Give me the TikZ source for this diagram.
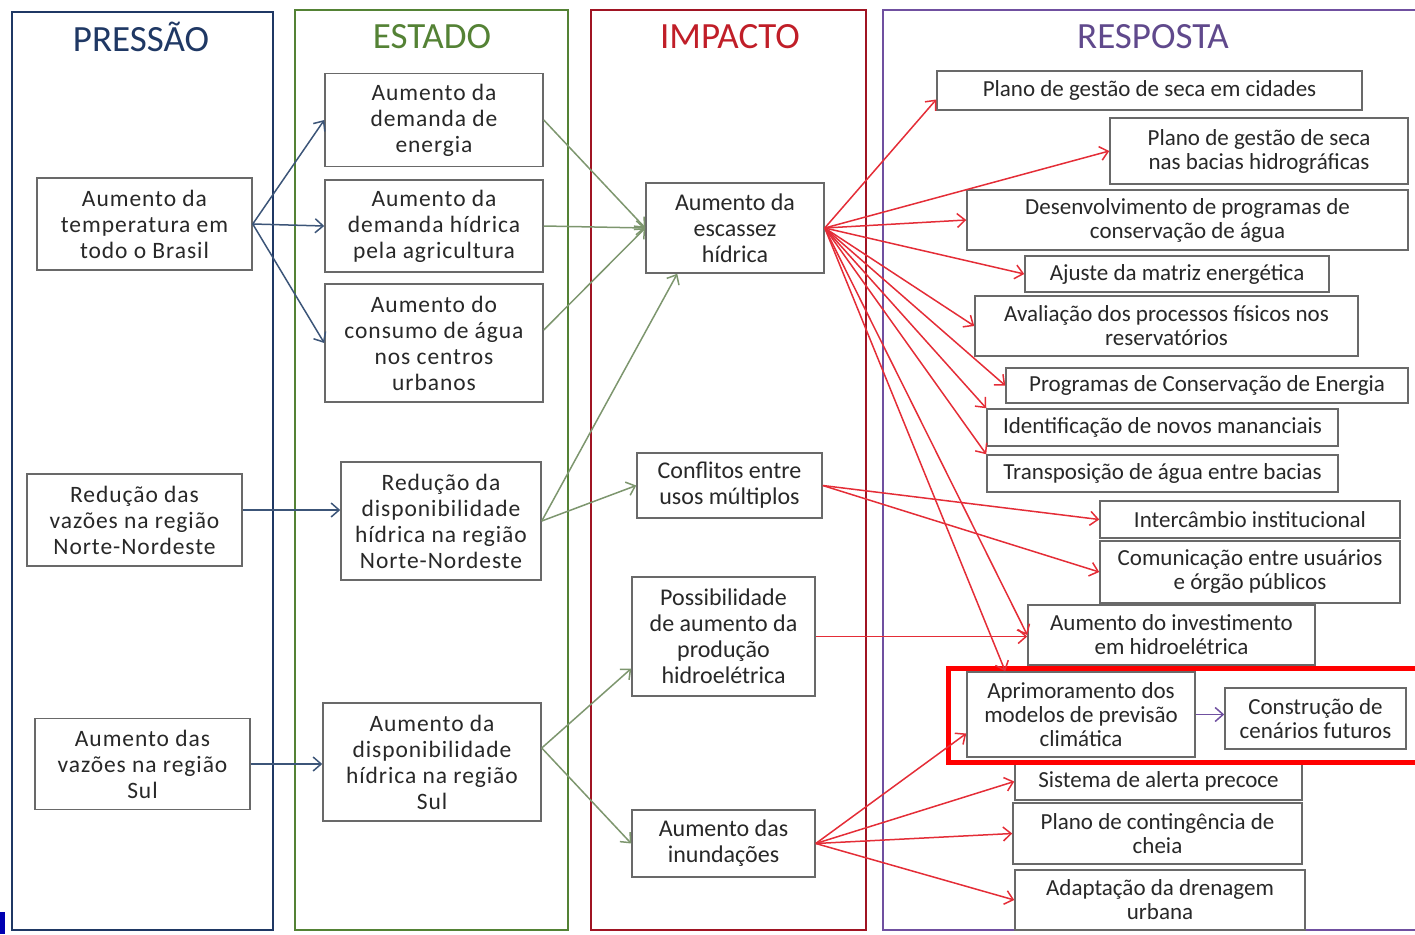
\documentclass[tikz,border=0pt]{standalone}
\usepackage{fontspec}
\setmainfont{Carlito}
\newfontfamily\boxfont{Carlito}[LetterSpace=4]
\usetikzlibrary{arrows.meta}

\definecolor{pnavy}{RGB}{31,56,100}
\definecolor{sgreen}{RGB}{84,130,53}
\definecolor{ired}{RGB}{160,20,35}
\definecolor{ititle}{RGB}{192,30,40}
\definecolor{rpurple}{RGB}{112,80,160}
\definecolor{rtitle}{RGB}{96,73,140}
\definecolor{boxgray}{RGB}{105,105,105}
\definecolor{boxtext}{RGB}{40,40,40}
\definecolor{pblue}{RGB}{60,85,120}
\definecolor{sarrow}{RGB}{125,150,110}
\definecolor{rred}{RGB}{228,45,55}

\tikzset{
  frame/.style={line width=2.5pt},
  coltitle/.style={font=\fontsize{37}{42}\selectfont},
  lbox/.style={draw=boxgray, line width=1.5pt, fill=white, align=center, inner sep=0pt,
    text=boxtext, font=\boxfont\fontsize{23.5}{26}\selectfont},
  mbox/.style={lbox, font=\fontsize{24}{26}\selectfont},
  rbox/.style={lbox, font=\fontsize{23}{24}\selectfont},
  conn/.style={line width=1.5pt, -{Straight Barb[length=8pt,width=14pt]}},
}

\begin{document}
\begin{tikzpicture}[x=1pt, y=-1pt]
    \useasboundingbox (0,0) rectangle (1415,934);

    % Column frames
    \draw[frame, draw=pnavy] (12,12) rectangle (273,930);
    \draw[frame, draw=sgreen] (295,10) rectangle (568,930);
    \draw[frame, draw=ired] (591,10) rectangle (866,930);
    \draw[frame, draw=rpurple] (883,10) rectangle (1430,930);
    \fill[blue!70!black] (0,912) rectangle (5,934);

    % Column titles
    \node[coltitle, text=pnavy] (tpres) at (141,37) {PRESSÃO};
    \node[coltitle, text=sgreen] (test) at (432,37) {ESTADO};
    \node[coltitle, text=ititle] (timp) at (730,37) {IMPACTO};
    \node[coltitle, text=rtitle] (tresp) at (1153,37) {RESPOSTA};

    % Pressure
    \node[lbox, minimum width=215pt, minimum height=92pt] (temp) at (144.5,224) {Aumento da\\temperatura em\\todo o Brasil};
    \node[lbox, minimum width=215pt, minimum height=92pt] (redvaz) at (134.5,520) {Redução das\\vazões na região\\Norte-Nordeste};
    \node[lbox, minimum width=215pt, minimum height=91pt] (aumvaz) at (142.5,764) {Aumento das\\vazões na região\\Sul};

    % State
    \node[lbox, minimum width=218pt, minimum height=93pt] (ener) at (434,120) {Aumento da\\demanda de\\energia};
    \node[lbox, minimum width=218pt, minimum height=92pt] (hidr) at (434,226) {Aumento da\\demanda hídrica\\pela agricultura};
    \node[lbox, minimum width=218pt, minimum height=118pt] (cons) at (434,343) {Aumento do\\consumo de água\\nos centros\\urbanos};
    \node[lbox, minimum width=200pt, minimum height=118pt] (rednn) at (441,521) {Redução da\\disponibilidade\\hídrica na região\\Norte-Nordeste};
    \node[lbox, minimum width=218pt, minimum height=118pt] (dispsul) at (432,762) {Aumento da\\disponibilidade\\hídrica na região\\Sul};

    % Impact
    \node[mbox, minimum width=178pt, minimum height=90pt] (esc) at (735,228) {Aumento da\\escassez\\hídrica};
    \node[mbox, minimum width=185pt, minimum height=65pt] (conf) at (729.5,485.5) {Conflitos entre\\usos múltiplos};
    \node[mbox, minimum width=183pt, minimum height=119pt] (poss) at (723.5,636.5) {Possibilidade\\de aumento da\\produção\\hidroelétrica};
    \node[mbox, minimum width=183pt, minimum height=67pt] (inund) at (723.5,843.5) {Aumento das\\inundações};

    % Response
    \node[rbox, minimum width=425pt, minimum height=39pt] (cid) at (1149.5,90.5) {Plano de gestão de seca em cidades};
    \node[rbox, minimum width=298pt, minimum height=66pt] (bac) at (1259,151) {Plano de gestão de seca\\nas bacias hidrográficas};
    \node[rbox, minimum width=441pt, minimum height=60pt] (des) at (1187.5,220) {Desenvolvimento de programas de\\conservação de água};
    \node[rbox, minimum width=304pt, minimum height=36pt] (aju) at (1177,274) {Ajuste da matriz energética};
    \node[rbox, minimum width=383pt, minimum height=60pt] (ava) at (1166.5,326) {Avaliação dos processos físicos nos\\reservatórios};
    \node[rbox, minimum width=402pt, minimum height=35pt] (prog) at (1207,385.5) {Programas de Conservação de Energia};
    \node[rbox, minimum width=351pt, minimum height=37pt] (ident) at (1162.5,427.5) {Identificação de novos mananciais};
    \node[rbox, minimum width=351pt, minimum height=37pt] (trans) at (1162.5,473.5) {Transposição de água entre bacias};
    \node[rbox, minimum width=300pt, minimum height=37pt] (inter) at (1250,519.5) {Intercâmbio institucional};
    \node[rbox, minimum width=300pt, minimum height=62pt] (com) at (1250,572) {Comunicação entre usuários\\e órgão públicos};
    \node[rbox, minimum width=287pt, minimum height=60pt] (inv) at (1171.5,635) {Aumento do investimento\\em hidroelétrica};
    \node[rbox, minimum width=228pt, minimum height=85pt] (apr) at (1081,714.5) {Aprimoramento dos\\modelos de previsão\\climática};
    \node[rbox, minimum width=181pt, minimum height=61pt] (con) at (1315.5,718.5) {Construção de\\cenários futuros};
    \node[rbox, minimum width=287pt, minimum height=37pt] (sis) at (1158.5,781.5) {Sistema de alerta precoce};
    \node[rbox, minimum width=289pt, minimum height=61pt] (cont) at (1157.5,833.5) {Plano de contingência de\\cheia};
    \node[rbox, minimum width=290pt, minimum height=60pt] (ada) at (1160,900) {Adaptação da drenagem\\urbana};

    % Highlight
    \draw[red, line width=5pt] (948,668) rectangle (1430,762);

    % Pressure -> state
    \draw[conn, pblue] (temp.east) -- (ener.west);
    \draw[conn, pblue] (temp.east) -- (hidr.west);
    \draw[conn, pblue] (temp.east) -- (cons.west);
    \draw[conn, pblue] ([yshift=10pt]redvaz.east) -- ([yshift=10pt]redvaz.east -| rednn.west);
    \draw[conn, pblue] (aumvaz.east) -- (aumvaz.east -| dispsul.west);

    % State -> impact
    \draw[conn, sarrow] (ener.east) -- (esc.west);
    \draw[conn, sarrow] (hidr.east) -- (esc.west);
    \draw[conn, sarrow] ([yshift=13pt]cons.east) -- (esc.west);
    \draw[conn, sarrow] (rednn.east) -- ([xshift=32pt]esc.south west);
    \draw[conn, sarrow] (rednn.east) -- (conf.west);
    \draw[conn, sarrow] ([yshift=14pt]dispsul.east) -- ([yshift=-32pt]poss.west);
    \draw[conn, sarrow] ([yshift=14pt]dispsul.east) -- (inund.west);

    % Impact -> response
    \draw[conn, rred] (esc.east) -- ([yshift=-9pt]cid.west);
    \foreach \tgt in {bac, des, aju, ava, prog, inv}
        \draw[conn, rred] (esc.east) -- (\tgt.west);
    \draw[conn, rred] (esc.east) -- (ident.north west);
    \draw[conn, rred] (esc.east) -- (trans.north west);
    \draw[conn, rred] (esc.east) -- ([xshift=39pt]apr.north west);
    \draw[conn, rred] (conf.east) -- (inter.west);
    \draw[conn, rred] (conf.east) -- (com.west);
    \draw[conn, rred] (poss.east) -- (poss.east -| inv.west);
    \draw[conn, rred] (inund.east) -- ([yshift=-19pt]apr.west);
    \foreach \tgt in {sis, cont, ada}
        \draw[conn, rred] (inund.east) -- (\tgt.west);
    \draw[conn, rpurple] (apr.east) -- (apr.east -| con.west);
\end{tikzpicture}
\end{document}
